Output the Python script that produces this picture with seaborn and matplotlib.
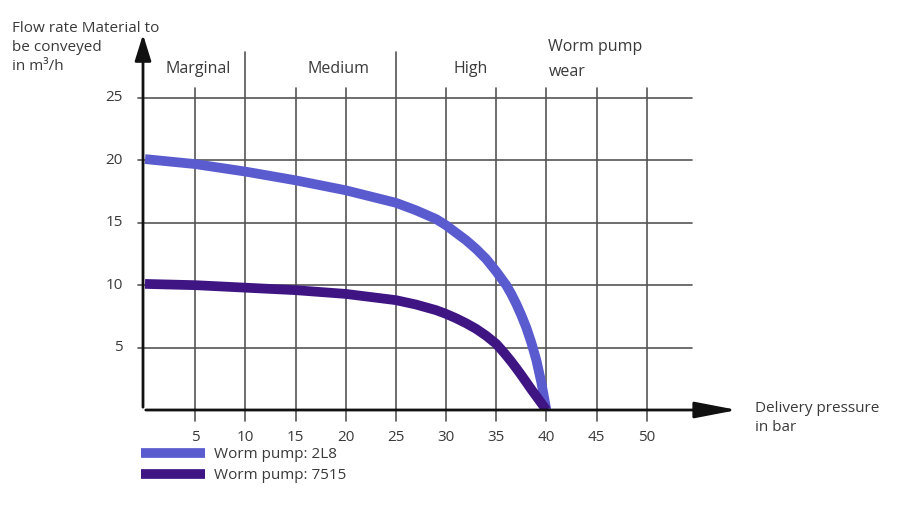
import matplotlib
matplotlib.use("Agg")
import matplotlib.pyplot as plt
import seaborn as sns
import pandas as pd
from matplotlib.lines import Line2D

# data
pressure_2l8 = [0, 5, 10, 15, 20, 25, 27, 29, 30, 31, 32, 33, 34, 35, 36, 36.5, 37, 37.5, 38, 38.5, 39, 39.5, 40]
flow_2l8 = [20.1, 19.7, 19.1, 18.4, 17.6, 16.6, 16.0, 15.3, 14.8, 14.2, 13.6, 12.9, 12.1, 11.1, 10.0, 9.3, 8.5, 7.6, 6.6, 5.4, 4.0, 2.2, 0]
pressure_7515 = [0, 5, 10, 15, 20, 25, 27, 29, 30, 31, 32, 33, 34, 35, 35.5, 36, 36.5, 37, 37.5, 38, 38.5, 39, 39.5, 40]
flow_7515 = [10.1, 10.0, 9.8, 9.6, 9.3, 8.8, 8.45, 8.0, 7.7, 7.35, 6.95, 6.5, 5.95, 5.3, 4.85, 4.38, 3.88, 3.35, 2.8, 2.23, 1.65, 1.1, 0.55, 0]
series_names = ["Worm pump: 2L8", "Worm pump: 7515"]
colors = ["#5b5bd0", "#3f1584"]
x_ticks = [5, 10, 15, 20, 25, 30, 35, 40, 45, 50]
y_ticks = [5, 10, 15, 20, 25]
zones = ["Marginal", "Medium", "High"]
zone_centres = [5.3, 19.3, 32.5]
zone_bounds = [10, 25]

df = pd.concat([
    pd.DataFrame({"pressure": pressure_2l8, "flow": flow_2l8, "pump": series_names[0]}),
    pd.DataFrame({"pressure": pressure_7515, "flow": flow_7515, "pump": series_names[1]}),
])

sns.set_style("white")
plt.rcParams['font.family'] = ['Open Sans', 'DejaVu Sans']
txt = "#3a3a3a"
grid_c = "#555555"

fig = plt.figure(figsize=(9.23, 5.13), dpi=100)
ax = fig.add_axes([143 / 923, 103 / 513, (735 - 143) / 923, (410 - 38) / 513])
ax.set_xlim(-0.2, 58.8)
ax.set_ylim(0, 29.8)

# grid
for x in x_ticks:
    top = 28.7 if x in zone_bounds else 25.8
    ax.plot([x, x], [-0.9, top], color=grid_c, lw=1.2, clip_on=False, zorder=1)
for y in y_ticks:
    ax.plot([-0.7, 54.5], [y, y], color=grid_c, lw=1.2, clip_on=False, zorder=1)

sns.lineplot(data=df, x="pressure", y="flow", hue="pump",
             palette=dict(zip(series_names, colors)),
             lw=7, sort=False, ax=ax, zorder=3, legend=False,
             solid_joinstyle="round", solid_capstyle="butt")

# axes with arrows
ax.annotate("", xy=(59.3, 0), xytext=(-0.2, 0),
            arrowprops=dict(arrowstyle="-|>,head_length=2.6,head_width=0.5", color="#111111", lw=2),
            annotation_clip=False, zorder=4)
ax.annotate("", xy=(-0.2, 30.3), xytext=(-0.2, 0),
            arrowprops=dict(arrowstyle="-|>,head_length=1.6,head_width=0.5", color="#111111", lw=2),
            annotation_clip=False, zorder=4)
sns.despine(ax=ax, left=True, bottom=True)
ax.set_xticks([])
ax.set_yticks([])
ax.set_xlabel("")
ax.set_ylabel("")

for x in x_ticks:
    ax.text(x, -2.2, str(x), ha="center", va="center", fontsize=11, color=txt)
for y in y_ticks:
    ax.text(-2.2, y, str(y), ha="right", va="center", fontsize=11, color=txt)

for name, cx in zip(zones, zone_centres):
    ax.text(cx, 27.3, name, ha="center", va="center", fontsize=11.5, color=txt)
ax.text(40.2, 29.1, "Worm pump", ha="left", va="center", fontsize=11.5, color=txt)
ax.text(40.2, 27.1, "wear", ha="left", va="center", fontsize=11.5, color=txt)

fig.text(12 / 923, 1 - 21 / 513, "Flow rate Material to\nbe conveyed\nin m³/h",
         ha="left", va="top", fontsize=11, color=txt, linespacing=1.35)
fig.text(755 / 923, 1 - 418 / 513, "Delivery pressure\nin bar",
         ha="left", va="center", fontsize=11, color=txt, linespacing=1.4)

# legend
handles = [Line2D([], [], color=c, lw=7, solid_capstyle="butt") for c in colors]
ax.legend(handles, series_names, loc="upper left", bbox_to_anchor=(135 / 923, 1 - 441 / 513),
          bbox_transform=fig.transFigure, frameon=False, handlelength=4.2, fontsize=11,
          labelspacing=0.4, handletextpad=0.6, borderaxespad=0, labelcolor=txt)

fig.savefig("out.png", dpi=100)
